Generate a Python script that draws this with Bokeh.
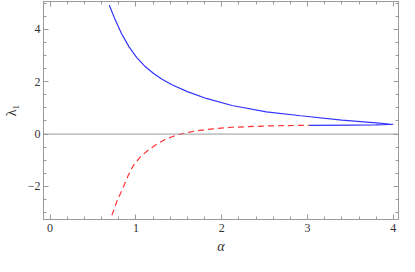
from bokeh.plotting import figure
from bokeh.models import FixedTicker, Span, LinearAxis, Range1d, CustomLabelingPolicy
from bokeh.embed import file_html
from bokeh.resources import INLINE

# Data
red_x = [0.72, 0.78, 0.85, 0.91, 0.97, 1.06, 1.16, 1.25, 1.34, 1.42, 1.51, 1.60,
         1.70, 1.90, 2.12, 2.52, 2.90, 3.02]
red_y = [-3.10, -2.55, -2.05, -1.58, -1.20, -0.84, -0.57, -0.37, -0.21, -0.10,
         -0.01, 0.06, 0.12, 0.20, 0.26, 0.31, 0.33, 0.33]

blue_x = [3.02, 3.50, 3.80, 3.95, 4.00, 3.95, 3.80, 3.40, 2.92, 2.52, 2.12, 1.82,
          1.60, 1.42, 1.30, 1.21, 1.10, 1.01, 0.92, 0.83, 0.76, 0.69]
blue_y = [0.33, 0.345, 0.355, 0.365, 0.375, 0.385, 0.43, 0.53, 0.70, 0.85, 1.09,
          1.36, 1.62, 1.88, 2.10, 2.30, 2.60, 2.92, 3.33, 3.85, 4.35, 4.92]

x_ticks = [0, 1, 2, 3, 4]
y_ticks = [-2, 0, 2, 4]
x_minor = [round(i * 0.2, 2) for i in range(0, 21)]
y_minor = [round(-3 + i * 0.5, 2) for i in range(0, 17)]
y_labels = {-2: "\u22122", 0: "0", 2: "2", 4: "4"}

FRAME = "#9a9a9a"
LABEL = "#333333"
SERIF = "Liberation Serif"

p = figure(width=399, height=256,
           x_range=Range1d(-0.077, 4.06), y_range=Range1d(-3.26, 5.06),
           output_backend="svg", toolbar_location=None,
           min_border_left=32, min_border_right=1, min_border_top=1,
           min_border_bottom=0)
p.grid.visible = False
p.outline_line_color = FRAME
p.background_fill_color = "white"

p.add_layout(Span(location=0, dimension="width", line_color=FRAME, line_width=1))

p.line(red_x, red_y, line_color="#ff3333", line_width=1.2, line_dash="6 4")
p.line(blue_x, blue_y, line_color="#3333ff", line_width=1.2)

def style(ax, ticks, minor, show):
    ax.ticker = FixedTicker(ticks=ticks, minor_ticks=minor)
    ax.axis_line_color = FRAME
    ax.major_tick_line_color = FRAME
    ax.minor_tick_line_color = FRAME
    ax.major_tick_in = 5
    ax.major_tick_out = 0
    ax.minor_tick_in = 3
    ax.minor_tick_out = 0
    if show:
        ax.major_label_text_font = SERIF
        ax.major_label_text_font_size = "12px"
        ax.major_label_text_color = LABEL
        ax.axis_label_text_font = SERIF
        ax.axis_label_text_font_size = "14px"
        ax.axis_label_text_color = LABEL
    else:
        ax.major_label_policy = CustomLabelingPolicy(code="return []")
        ax.major_label_text_font_size = "0px"
        ax.major_label_standoff = 0

xa = p.xaxis[0]
style(xa, x_ticks, x_minor, True)
xa.axis_label = "\u03b1"
xa.axis_label_text_font_style = "italic"
xa.major_label_standoff = 4
xa.axis_label_standoff = 4

ya = p.yaxis[0]
style(ya, y_ticks, y_minor, True)
ya.major_label_overrides = y_labels
ya.axis_label = "\u03bb\u2081"
ya.axis_label_text_font_style = "normal"
ya.major_label_standoff = 3
ya.axis_label_standoff = 6

top = LinearAxis()
style(top, x_ticks, x_minor, False)
p.add_layout(top, "above")
right = LinearAxis()
style(right, y_ticks, y_minor, False)
p.add_layout(right, "right")

open("out.html", "w").write(file_html(p, INLINE))
